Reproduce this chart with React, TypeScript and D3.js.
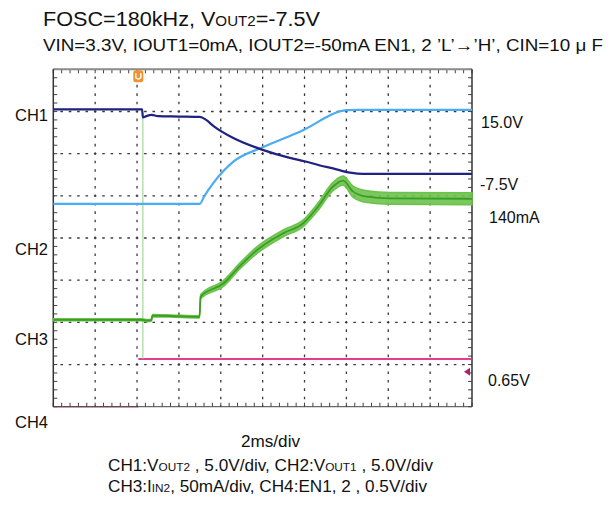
import React from "react";
import * as d3 from "d3";

// time in divisions (2ms/div), amplitude in screen divisions (-4..4)
const ch1Points: [number, number][] = [
  [0, 3.05], [2.12, 3.05], [2.14, 2.86], [2.22, 2.89], [2.35, 2.92], [2.5, 2.89],
  [3.0, 2.88], [3.5, 2.87], [3.65, 2.80], [3.82, 2.66], [4.3, 2.37], [5.0, 2.09],
  [5.65, 1.90], [6.0, 1.82], [6.37, 1.72], [6.68, 1.65], [7.09, 1.55], [7.4, 1.52], [10, 1.52],
];
const ch2Points: [number, number][] = [
  [0, 0.81], [3.5, 0.81], [3.6, 0.98], [3.82, 1.30], [4.3, 1.81], [5.0, 2.15],
  [5.89, 2.52], [7.01, 3.03], [7.3, 3.04], [10, 3.04],
];
const ch3Points: [number, number][] = [
  [0, -1.94], [2.1, -1.94], [2.25, -1.96], [2.34, -1.95], [2.37, -1.84], [2.8, -1.85],
  [3.49, -1.87], [3.52, -1.39], [4.06, -1.08], [4.46, -0.66], [4.86, -0.29], [5.49, 0.11],
  [5.97, 0.35], [6.32, 0.74], [6.68, 1.22], [6.92, 1.36], [7.16, 1.10], [7.49, 0.98],
  [8.04, 0.94], [10, 0.93],
];
const ch3Spread: number[] = [
  0.025, 0.025, 0.025, 0.025, 0.025, 0.025,
  0.025, 0.05, 0.07, 0.07, 0.08, 0.08,
  0.08, 0.09, 0.1, 0.11, 0.13, 0.14,
  0.14, 0.14,
];
const ch4Points: [number, number][] = [
  [2.03, -2.87], [10, -2.87],
];
const ch4Hidden: [number, number][] = [[0, -4], [2.03, -4]];
const glitchPoints: [number, number][] = [[2.14, 2.95], [2.14, -2.87]];
const triggerTime = 2.03;
const triggerLevel = -3.17;

const titleLine1 = ["FOSC=180kHz, V", "OUT2", "=-7.5V"];
const titleLine2 = "VIN=3.3V, IOUT1=0mA, IOUT2=-50mA EN1, 2 ’L’→’H’, CIN=10 μ F";
const leftLabels = [
  { text: "CH1", y: 121 },
  { text: "CH2", y: 255 },
  { text: "CH3", y: 345 },
  { text: "CH4", y: 428 },
];
const rightLabels = [
  { text: "15.0V", x: 481, y: 128 },
  { text: "-7.5V", x: 480, y: 190 },
  { text: "140mA", x: 489, y: 223 },
  { text: "0.65V", x: 488, y: 386 },
];
const timeBase = "2ms/div";

const W = 614, H = 505;
const L = 53.3, R = 472, T = 69.3, B = 406.7;

export default function App() {
  const x = d3.scaleLinear().domain([0, 10]).range([L, R]);
  const y = d3.scaleLinear().domain([-4, 4]).range([B, T]);
  const line = d3.line<[number, number]>().x(d => x(d[0])).y(d => y(d[1])).curve(d3.curveMonotoneX);
  const lineStraight = d3.line<[number, number]>().x(d => x(d[0])).y(d => y(d[1]));
  const band = d3.area<[number, number]>()
    .x(d => x(d[0]))
    .y0((d, i) => y(d[1] - ch3Spread[i]))
    .y1((d, i) => y(d[1] + ch3Spread[i]))
    .curve(d3.curveMonotoneX);

  const majorX = d3.range(1, 10);
  const majorY = d3.range(-3, 4);
  const minorX = d3.range(0, 50.001, 1).map(i => i / 5);
  const minorY = d3.range(0, 40.001, 1).map(i => -4 + i / 5);
  const font = "'Liberation Sans', Arial, sans-serif";
  const gridColor = "#3a3a3a";

  return (
    <svg width={W} height={H} style={{ position: "absolute", left: 0, top: 0, background: "#fff" }} fontFamily={font}>
      {/* title */}
      <text x={43} y={26} fontSize={20} fill="#111" textLength={277} lengthAdjust="spacingAndGlyphs">
        <tspan>{titleLine1[0]}</tspan>
        <tspan fontSize={14}>{titleLine1[1]}</tspan>
        <tspan>{titleLine1[2]}</tspan>
      </text>
      <text x={43} y={51} fontSize={17} fill="#111" textLength={560} lengthAdjust="spacingAndGlyphs">{titleLine2}</text>

      {/* grid */}
      {majorX.map(t => (
        <line key={"gx" + t} x1={x(t)} x2={x(t)} y1={T} y2={B} stroke={gridColor} strokeWidth={1.3} strokeDasharray="2.6 5.83" strokeDashoffset={1.3} />
      ))}
      {majorY.map(v => (
        <line key={"gy" + v} x1={L} x2={R} y1={y(v)} y2={y(v)} stroke={gridColor} strokeWidth={1.3} strokeDasharray="2.6 5.77" strokeDashoffset={1.3} />
      ))}
      {/* border ticks */}
      {minorX.map((t, i) => (
        <g key={"tx" + i}>
          <line x1={x(t)} x2={x(t)} y1={T} y2={T + 4} stroke="#444" strokeWidth={1} />
          <line x1={x(t)} x2={x(t)} y1={B} y2={B - 4} stroke="#444" strokeWidth={1} />
        </g>
      ))}
      {minorY.map((v, i) => (
        <g key={"ty" + i}>
          <line x1={L} x2={L + 4} y1={y(v)} y2={y(v)} stroke="#444" strokeWidth={1} />
          <line x1={R} x2={R - 4} y1={y(v)} y2={y(v)} stroke="#444" strokeWidth={1} />
        </g>
      ))}
      <path d={lineStraight(ch4Hidden) ?? ""} fill="none" stroke="#c03070" strokeWidth={1.5} strokeOpacity={0.7} />
      <line x1={L} x2={R} y1={T} y2={T} stroke="#8a8a8a" strokeWidth={2} />
      <line x1={L} x2={L} y1={T} y2={B} stroke="#333" strokeWidth={1.5} />
      <line x1={R} x2={R} y1={T} y2={B} stroke="#333" strokeWidth={1.5} />
      <line x1={L} x2={R} y1={B} y2={B} stroke="#444" strokeWidth={1.2} strokeOpacity={0.8} />

      {/* traces */}
      <path d={lineStraight(ch4Points) ?? ""} fill="none" stroke="#e0287e" strokeWidth={2} strokeOpacity={0.9} />
      <path d={lineStraight(glitchPoints) ?? ""} fill="none" stroke="#8fd08a" strokeWidth={1} />
      <path d={line(ch2Points) ?? ""} fill="none" stroke="#4aacf2" strokeWidth={2.2} />
      <path d={line(ch1Points) ?? ""} fill="none" stroke="#1f2280" strokeWidth={2.2} />
      <path d={band(ch3Points) ?? ""} fill="#6cc24c" fillOpacity={0.9} stroke="#6cc24c" strokeWidth={1.5} />
      <path d={line(ch3Points) ?? ""} fill="none" stroke="#3a9e24" strokeWidth={1.8} />

      {/* trigger marker */}
      <g transform={`translate(${x(triggerTime)},${T + 1})`}>
        <rect x={-5} y={0} width={10} height={12} rx={2.5} fill="#f0932c" />
        <path d="M-2.5,3 L-2.5,7.5 Q0,10 2.5,7.5 L2.5,3" fill="none" stroke="#fff" strokeWidth={1.4} />
      </g>
      <path d={`M${R - 2},${y(triggerLevel) - 4} L${R - 2},${y(triggerLevel) + 4} L${R - 8},${y(triggerLevel)} Z`} fill="#b0206e" />

      {/* channel labels */}
      {leftLabels.map(l => (
        <text key={l.text} x={15} y={l.y} fontSize={16} fill="#111" textLength={33} lengthAdjust="spacingAndGlyphs">{l.text}</text>
      ))}
      {rightLabels.map(l => (
        <text key={l.text} x={l.x} y={l.y} fontSize={16} fill="#111">{l.text}</text>
      ))}

      {/* bottom captions */}
      <text x={241} y={447} fontSize={16} fill="#111" textLength={59} lengthAdjust="spacingAndGlyphs">{timeBase}</text>
      <text x={108} y={471} fontSize={16} fill="#111" textLength={325} lengthAdjust="spacingAndGlyphs">
        <tspan>CH1:V</tspan><tspan fontSize={11}>OUT2</tspan><tspan> , 5.0V/div, CH2:V</tspan><tspan fontSize={11}>OUT1</tspan><tspan> , 5.0V/div</tspan>
      </text>
      <text x={108} y={492} fontSize={16} fill="#111" textLength={319} lengthAdjust="spacingAndGlyphs">
        <tspan>CH3:I</tspan><tspan fontSize={11}>IN2</tspan><tspan>, 50mA/div, CH4:EN1, 2  , 0.5V/div</tspan>
      </text>
    </svg>
  );
}
